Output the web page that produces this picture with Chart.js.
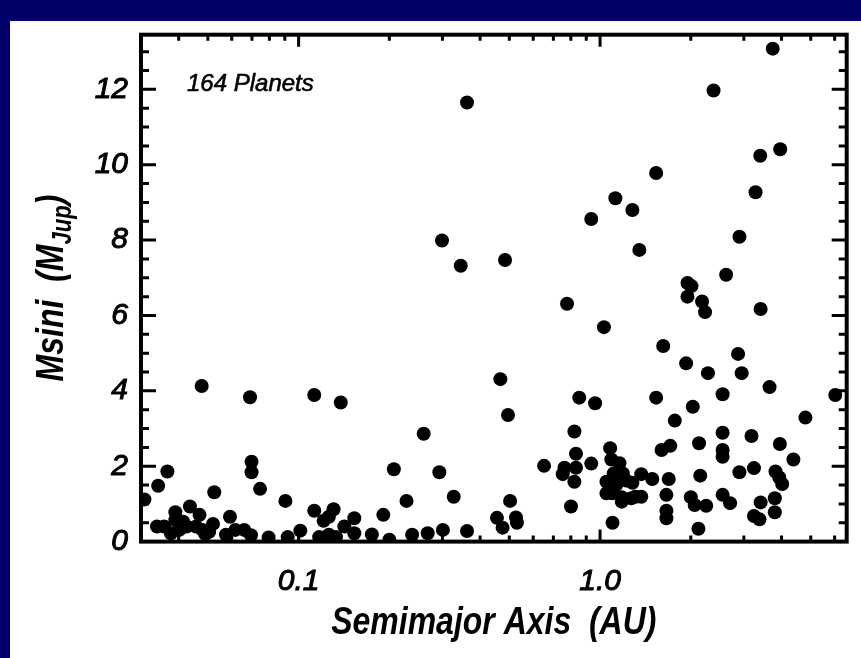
<!DOCTYPE html>
<html>
<head>
<meta charset="utf-8">
<title>Msini vs Semimajor Axis</title>
<script src="https://cdn.jsdelivr.net/npm/chart.js@4.4.1/dist/chart.umd.min.js"></script>
<style>
  html, body { margin: 0; padding: 0; background: #000068; overflow: hidden; }
  #panel { position: absolute; left: 10px; top: 21px; right: 0; bottom: 0; background: #ffffff; }
  #wrap { position: absolute; left: 0; top: 0; width: 861px; height: 658px; }
</style>
</head>
<body>
<div id="panel"></div>
<div id="wrap"><canvas id="planet-chart" width="861" height="658"></canvas></div>
<script>
// semimajor axis (AU) and minimum mass (Jupiter masses), one entry per planet
const semimajorAxis = [
  0.362, 0.299, 0.345, 0.484, 0.777, 0.935, 1.124, 1.28, 3.74, 2.38,
  3.96, 3.40, 1.535, 3.28, 1.35, 2.90, 2.62, 1.95, 2.01, 1.95,
  2.18, 2.23, 3.41, 1.03, 1.62, 2.87, 1.93, 2.95, 2.28, 3.65,
  6.03, 0.963, 1.535, 2.55, 2.03, 4.80, 1.77, 2.55, 3.18, 3.95,
  2.13, 1.60, 1.71, 2.55, 2.55, 4.38, 3.24, 2.90, 3.82, 3.93,
  4.02, 2.15, 1.69, 1.66, 2.55, 2.70, 2.00, 2.06, 2.25, 3.80,
  3.41, 1.66, 1.66, 3.24, 3.38, 3.80, 2.12, 1.10, 1.08, 1.09,
  1.16, 1.19, 1.11, 1.05, 1.13, 1.05, 1.10, 1.18, 1.18, 1.22,
  1.28, 1.27, 1.31, 1.37, 1.37, 1.49, 0.138, 0.467, 0.853, 0.495,
  0.26, 0.822, 0.832, 0.652, 0.762, 0.752, 0.832, 0.935, 0.822, 0.207,
  0.293, 0.228, 0.327, 0.191, 0.503, 0.455, 0.475, 0.526, 0.53, 0.801,
  0.175, 0.238, 0.268, 0.301, 0.362, 0.153, 0.153, 0.13, 0.0477, 0.069,
  0.1127, 0.0308, 0.0342, 0.0367, 0.0698, 0.0698, 0.0745, 0.0525, 0.0904, 0.1127,
  0.1306, 0.126, 0.121, 0.1418, 0.117, 0.126, 0.133, 0.0339, 0.0358, 0.039,
  0.0436, 0.0469, 0.039, 0.0414, 0.0425, 0.0402, 0.0377, 0.0457, 0.048, 0.0505,
  0.052, 0.0592, 0.0574, 0.0617, 0.066, 0.0695, 0.0795, 0.092, 0.1013, 0.20,
  0.049
];
const msini = [
  11.65, 7.99, 7.32, 7.47, 6.31, 8.56, 9.11, 8.80, 13.08, 11.97,
  10.41, 10.24, 9.78, 9.27, 7.74, 8.09, 7.08, 6.86, 6.78, 6.50,
  6.37, 6.09, 6.17, 5.69, 5.19, 4.98, 4.73, 4.47, 4.47, 4.10,
  3.89, 3.67, 3.82, 3.91, 3.58, 3.29, 3.21, 2.89, 2.80, 2.59,
  2.61, 2.43, 2.54, 2.43, 2.25, 2.18, 1.95, 1.84, 1.86, 1.70,
  1.53, 1.75, 1.66, 1.24, 1.24, 1.02, 1.18, 0.97, 0.95, 1.15,
  1.04, 0.82, 0.62, 0.68, 0.59, 0.78, 0.34, 0.50, 2.48, 2.18,
  2.08, 1.81, 1.81, 1.59, 1.50, 1.28, 1.28, 1.06, 1.18, 1.62,
  1.56, 1.15, 1.19, 1.19, 1.79, 1.66, 3.69, 4.31, 3.82, 3.36,
  2.86, 2.92, 2.33, 2.01, 1.96, 1.79, 1.96, 2.07, 1.59, 1.92,
  1.84, 1.08, 1.19, 0.71, 1.08, 0.63, 0.37, 0.64, 0.50, 0.93,
  0.19, 0.18, 0.22, 0.31, 0.28, 0.62, 0.22, 0.09, 4.13, 3.83,
  3.89, 1.12, 1.48, 1.86, 2.12, 1.84, 1.40, 1.31, 1.08, 0.82,
  0.86, 0.66, 0.55, 0.40, 0.12, 0.18, 0.12, 0.40, 0.40, 0.78,
  0.93, 0.71, 0.57, 0.53, 0.40, 0.31, 0.22, 0.40, 0.31, 0.26,
  0.47, 0.66, 0.18, 0.31, 0.31, 0.17, 0.11, 0.12, 0.29, 0.05,
  0.20
];

// axis ticks
const xMajorTicks = [0.1, 1.0];
const xTickLabels = ['0.1', '1.0'];
const xMinorTicks = [0.04, 0.05, 0.06, 0.07, 0.08, 0.09,
                     0.2, 0.3, 0.4, 0.5, 0.6, 0.7, 0.8, 0.9,
                     2, 3, 4, 5, 6];
const yMajorTicks = [0, 2, 4, 6, 8, 10, 12];
const yMinorTicks = [0.5, 1, 1.5, 2.5, 3, 3.5, 4.5, 5, 5.5, 6.5, 7, 7.5,
                     8.5, 9, 9.5, 10.5, 11, 11.5, 12.5, 13];

const FONT = "'Liberation Sans', Arial, Helvetica, sans-serif";
const SQUEEZE = 0.82; // bold face drawn narrower, like a condensed Helvetica

// draw text squeezed horizontally along its own direction
function narrowText(ctx, pieces, cx, cy, angle) {
  let total = 0;
  pieces.forEach(p => { ctx.font = p.f; p.w = ctx.measureText(p.t).width; total += p.w; });
  ctx.save();
  ctx.translate(cx, cy);
  ctx.rotate(angle);
  ctx.scale(SQUEEZE, 1);
  let x = -total / 2;
  pieces.forEach(p => {
    ctx.font = p.f;
    ctx.fillText(p.t, x, p.dy || 0);
    x += p.w;
  });
  ctx.restore();
}

// box frame with inward ticks on all four sides, plus the text labels
const frameTicks = {
  id: 'frameTicks',
  afterDatasetsDraw(chart) {
    const {ctx, chartArea: a, scales: {x, y}} = chart;
    ctx.save();
    ctx.strokeStyle = '#000';
    ctx.lineWidth = 3;
    ctx.beginPath();
    const yTick = (v, len) => {
      const py = y.getPixelForValue(v);
      ctx.moveTo(a.left, py); ctx.lineTo(a.left + len, py);
      ctx.moveTo(a.right, py); ctx.lineTo(a.right - len, py);
    };
    const xTick = (v, len) => {
      const px = x.getPixelForValue(v);
      ctx.moveTo(px, a.top); ctx.lineTo(px, a.top + len);
      ctx.moveTo(px, a.bottom); ctx.lineTo(px, a.bottom - len);
    };
    yMajorTicks.forEach(v => yTick(v, 15));
    yMinorTicks.forEach(v => yTick(v, 8));
    xMajorTicks.forEach(v => xTick(v, 12));
    xMinorTicks.forEach(v => xTick(v, 6));
    ctx.stroke();
    ctx.lineWidth = 4;
    ctx.strokeRect(a.left, a.top, a.right - a.left, a.bottom - a.top);
    ctx.restore();
  },
  afterDraw(chart) {
    const {ctx, chartArea: a} = chart;
    ctx.save();
    ctx.fillStyle = '#000';
    ctx.strokeStyle = '#000';
    ctx.textBaseline = 'alphabetic';
    ctx.textAlign = 'left';

    // planet count note
    ctx.font = `italic 24px ${FONT}`;
    ctx.lineWidth = 0.6;
    ctx.fillText('164 Planets', 187, 91);
    ctx.strokeText('164 Planets', 187, 91);

    // axis titles
    const big = `italic bold 39px ${FONT}`;
    const small = `italic bold 27px ${FONT}`;
    narrowText(ctx, [{t: 'Semimajor Axis  (AU)', f: big}], (a.left + a.right) / 2, 634, 0);
    narrowText(ctx, [
      {t: 'Msini  (M', f: big},
      {t: 'Jup', f: small, dy: 8},
      {t: ')', f: big}
    ], 63, 288, -Math.PI / 2);
    ctx.restore();
  }
};

const points = semimajorAxis.map((a, i) => ({x: a, y: msini[i]}));

const tickFont = {family: FONT, size: 30, style: 'italic'};

new Chart(document.getElementById('planet-chart'), {
  type: 'scatter',
  data: {
    datasets: [{
      data: points,
      backgroundColor: '#000',
      borderWidth: 0,
      pointRadius: 7,
      pointHoverRadius: 7,
      clip: 0
    }]
  },
  options: {
    responsive: false,
    animation: false,
    events: [],
    layout: {padding: {top: 34.7, right: 14.3, left: 0, bottom: 0}},
    plugins: {legend: {display: false}, tooltip: {enabled: false}},
    scales: {
      x: {
        type: 'logarithmic',
        min: 0.03,
        max: 6.58,
        grid: {display: false, drawTicks: false},
        border: {display: false},
        afterBuildTicks: scale => { scale.ticks = xMajorTicks.map(v => ({value: v})); },
        afterFit: scale => { scale.height = 658 - 541.6; },
        ticks: {
          autoSkip: false,
          maxRotation: 0,
          padding: 22,
          color: '#000',
          textStrokeColor: '#000',
          textStrokeWidth: 1,
          font: tickFont,
          callback: value => xTickLabels[xMajorTicks.indexOf(value)]
        }
      },
      y: {
        type: 'linear',
        min: 0,
        max: 13.45,
        grid: {display: false, drawTicks: false},
        border: {display: false},
        afterBuildTicks: scale => { scale.ticks = yMajorTicks.map(v => ({value: v})); },
        afterFit: scale => { scale.width = 141; },
        ticks: {
          padding: 13,
          color: '#000',
          textStrokeColor: '#000',
          textStrokeWidth: 1,
          font: tickFont,
          callback: value => String(value)
        }
      }
    }
  },
  plugins: [frameTicks]
});
</script>
</body>
</html>
